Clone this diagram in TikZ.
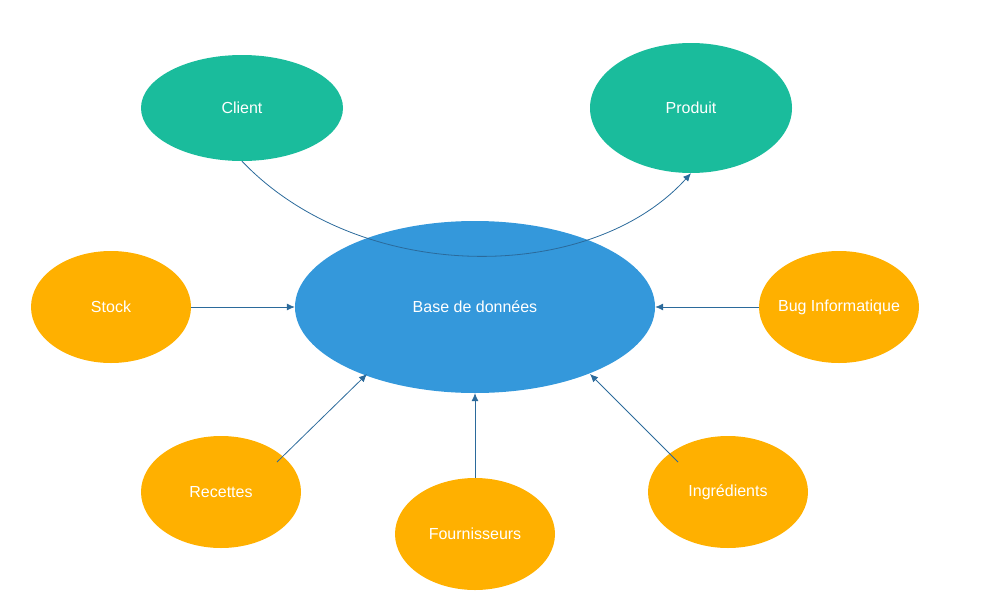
\documentclass[tikz,border=0pt]{standalone}
\usepackage{fontspec}
\setmainfont{Liberation Sans}
\usetikzlibrary{shapes.geometric,arrows.meta,calc}
\definecolor{tealc}{HTML}{1ABC9C}
\definecolor{bluec}{HTML}{3498DB}
\definecolor{orangec}{HTML}{FFB000}
\definecolor{linec}{HTML}{2B6A9B}
\begin{document}
\begin{tikzpicture}[x=1pt,y=-1pt,
  blob/.style={ellipse,inner sep=0pt,text=white,font=\fontsize{16}{19}\selectfont},
  tealblob/.style={blob,fill=tealc},
  orangeblob/.style={blob,fill=orangec,minimum width=160pt,minimum height=112pt},
  conn/.style={draw=linec,line width=0.8pt,-{Latex[length=8pt,width=7pt]}}]
\useasboundingbox (0,0) rectangle (995,613);
\node[tealblob,minimum width=202pt,minimum height=106pt] (client) at (242,108) {Client};
\node[tealblob,minimum width=202pt,minimum height=130pt] (produit) at (691,108) {Produit};
\node[blob,fill=bluec,minimum width=360pt,minimum height=172pt] (base) at (475,307) {Base de données};
\node[orangeblob] (stock) at (111,307) {Stock};
\node[orangeblob,inner xsep=-40pt] (bug) at (839,307) {Bug Informatique};
\node[orangeblob] (rec) at (221,492) {Recettes};
\node[orangeblob] (four) at (475,534) {Fournisseurs};
\node[orangeblob] (ing) at (728,492) {Ingrédients};
\draw[conn] (client.south) .. controls (360,285) and (590,285) .. (produit.south);
\draw[conn] (stock.east) -- (base.west);
\draw[conn] (bug.west) -- (base.east);
\draw[conn] ($(rec.center)+(56,-30)$) -- ($(base.center)+(-108,67)$);
\draw[conn] ($(ing.center)+(-50,-30)$) -- ($(base.center)+(115,67)$);
\draw[conn] (four.north) -- (base.south);
\end{tikzpicture}
\end{document}
